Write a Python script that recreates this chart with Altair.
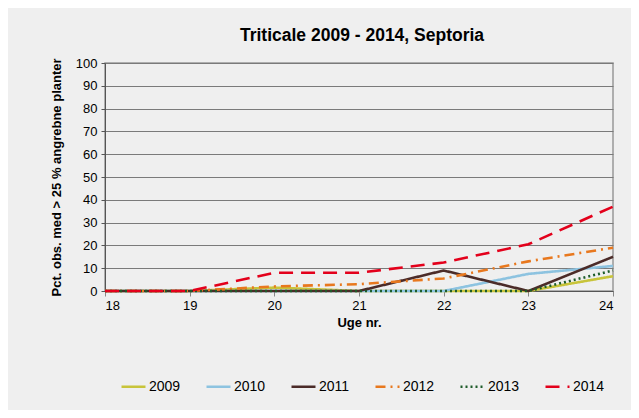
import altair as alt
import pandas as pd

weeks = [18, 19, 20, 21, 22, 23, 24]
years = ["2009", "2010", "2011", "2012", "2013", "2014"]
v2009 = [0, 0, 1.5, 0, 0, 0, 6.5]
v2010 = [0, 0, 0, 0, 0, 7.5, 11]
v2011 = [0, 0, 0, 0, 9, 0, 15]
v2012 = [0, 0, 2, 3, 5.5, 13, 19]
v2013 = [0, 0, 0, 0, 0, 0, 9]
v2014 = [0, 0, 8, 8, 12.5, 20.5, 37]

colors = ["#C8C43A", "#8DC3E0", "#4B2B28", "#E8781E", "#1E5C2A", "#E3001B"]
dashes = [[1, 0], [1, 0], [1, 0], [10, 5, 2, 5], [2, 3], [14, 8]]
widths = [2.6, 2.6, 2.6, 2.6, 2.6, 5]

series = [v2009, v2010, v2011, v2012, v2013, v2014]
rows = []
for y, vals in zip(years, series):
    for w, v in zip(weeks, vals):
        rows.append({"Uge": w, "Pct": v, "År": y})
df = pd.DataFrame(rows)

FONT = "Arial"

leg = alt.Legend(title=None, orient="none", direction="horizontal",
                 legendX=15, legendY=310, symbolType="stroke",
                 symbolSize=576, labelFontSize=14, labelFont=FONT,
                 columnPadding=20, labelOffset=2, labelColor="#000000",
                 symbolStrokeWidth={"expr": "datum.label === '2014' ? 5 : 2.6"})

chart = alt.Chart(df).mark_line(strokeCap="butt").encode(
    x=alt.X("Uge:Q", scale=alt.Scale(domain=[18, 24], nice=False),
            axis=alt.Axis(title="Uge nr.", values=weeks, format="d", grid=False,
                          tickSize=5, tickColor="#888888", domainColor="#555555",
                          labelFontSize=13, titleFontSize=13, titleFontWeight="bold",
                          labelFont=FONT, titleFont=FONT,
                          labelPadding=3, titlePadding=4, labelColor="#000000",
                          titleColor="#000000")),
    y=alt.Y("Pct:Q", scale=alt.Scale(domain=[0, 100], nice=False),
            axis=alt.Axis(title="Pct. obs. med > 25 % angrebne planter",
                          values=list(range(0, 101, 10)), grid=True,
                          gridColor="#7a7a7a", gridWidth=1.2, tickSize=4,
                          tickColor="#555555", domainColor="#555555",
                          labelFontSize=13, titleFontSize=13, titleFontWeight="bold",
                          labelFont=FONT, titleFont=FONT,
                          labelPadding=4, titlePadding=12, labelColor="#000000",
                          titleColor="#000000")),
    color=alt.Color("År:N", scale=alt.Scale(domain=years, range=colors), legend=leg),
    strokeDash=alt.StrokeDash("År:N", scale=alt.Scale(domain=years, range=dashes), legend=leg),
    strokeWidth=alt.StrokeWidth("År:N", scale=alt.Scale(domain=years, range=widths), legend=None),
    order=alt.Order("Uge:Q"),
).properties(
    width=508, height=228,
    title=alt.Title("Triticale 2009 - 2014, Septoria", fontSize=17.5, fontWeight="bold",
                    font=FONT, color="#000000", offset=13, dx=3),
    autosize=alt.AutoSizeParams(type="none"),
    padding={"left": 97, "top": 55, "right": 18, "bottom": 119},
    background="#EFEFEF",
).configure(font=FONT).configure_view(stroke="#999999", strokeWidth=1.5)

chart.save("out.html", embed_options={"renderer": "svg", "actions": False})
